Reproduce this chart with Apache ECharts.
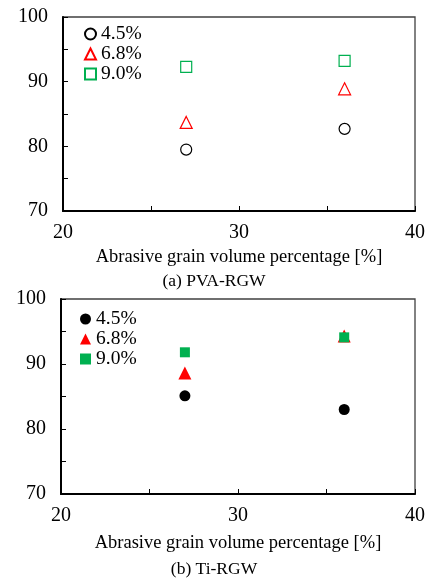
<!DOCTYPE html>
<html><head><meta charset="utf-8">
<script src="https://cdn.jsdelivr.net/npm/echarts@6/dist/echarts.min.js"></script>
<style>html,body{margin:0;padding:0;background:#fff}#c{width:428px;height:580px}</style>
</head><body><div id="c"></div>
<script>
const xValues = [27, 36];
const seriesNames = ['4.5%', '6.8%', '9.0%'];
const pvaValues = {
  '4.5%': [79.5, 82.7],
  '6.8%': [83.7, 88.9],
  '9.0%': [92.3, 93.2]
};
const tiValues = {
  '4.5%': [85.1, 83.0],
  '6.8%': [88.6, 94.3],
  '9.0%': [91.8, 94.1]
};
const xTickLabels = [20, 30, 40];
const yTickLabels = [70, 80, 90, 100];
const xAxisTitle = 'Abrasive grain volume percentage [%]';
const captions = ['(a) PVA-RGW', '(b) Ti-RGW'];

const FONT = 'Liberation Serif';
const symbols = ['circle', 'triangle', 'rect'];
const colors = ['#000000', '#ff0000', '#00b050'];
const sizes = [[11, 12, 11], [11, 13, 10]];
const nameGaps = [37, 40];

function axisPair(i) {
  return {
    x: {
      type: 'value', gridIndex: i, min: 20, max: 40, interval: 5,
      splitLine: { show: false },
      axisLine: { lineStyle: { color: '#000', width: 2 } },
      axisTick: { inside: true, length: 5, lineStyle: { color: '#000', width: 1 } },
      axisLabel: { fontFamily: FONT, fontSize: 20, color: '#000', margin: 12,
        formatter: v => xTickLabels.includes(v) ? String(v) : '' },
      name: xAxisTitle, nameLocation: 'middle', nameGap: nameGaps[i],
      nameTextStyle: { fontFamily: FONT, fontSize: 18.5, color: '#000' }
    },
    y: {
      type: 'value', gridIndex: i, min: 70, max: 100, interval: 5,
      splitLine: { show: false },
      axisLine: { show: true, lineStyle: { color: '#000', width: 2 } },
      axisTick: { show: true, inside: true, length: 5, lineStyle: { color: '#000', width: 1 } },
      axisLabel: { fontFamily: FONT, fontSize: 20, color: '#000', margin: 15,
        formatter: v => yTickLabels.includes(v) ? String(v) : '' }
    }
  };
}

const a0 = axisPair(0), a1 = axisPair(1);
const series = [];
[pvaValues, tiValues].forEach((vals, gi) => {
  seriesNames.forEach((n, k) => {
    const filled = gi === 1;
    series.push({
      name: (gi === 0 ? 'a:' : 'b:') + n,
      type: 'scatter', xAxisIndex: gi, yAxisIndex: gi,
      symbol: symbols[k], symbolSize: sizes[gi][k],
      itemStyle: filled
        ? { color: colors[k], borderWidth: 0, opacity: 1 }
        : { color: 'rgba(255,255,255,0)', borderColor: colors[k], borderWidth: 1.2, opacity: 1 },
      data: xValues.map((x, j) => [x, vals[n][j]])
    });
  });
});

const legendCommon = {
  orient: 'vertical', itemWidth: 11, itemHeight: 11, itemGap: 0, padding: 0,
  textStyle: { fontFamily: FONT, fontSize: 19.5, color: '#000', lineHeight: 19.5 },
  formatter: n => n.slice(2), selectedMode: false
};

const chart = echarts.init(document.getElementById('c'), null, { renderer: 'canvas' });
chart.setOption({
  animation: false,
  backgroundColor: '#fff',
  grid: [
    { left: 63, top: 17, right: 13, height: 194, show: true, borderColor: '#404040', borderWidth: 1.3, backgroundColor: 'transparent' },
    { left: 61, top: 299, right: 12, height: 195, show: true, borderColor: '#404040', borderWidth: 1.3, backgroundColor: 'transparent' }
  ],
  xAxis: [a0.x, a1.x],
  yAxis: [a0.y, a1.y],
  legend: [
    Object.assign({ left: 84, top: 24, data: seriesNames.map(n => 'a:' + n) }, legendCommon),
    Object.assign({ left: 80, top: 309, data: seriesNames.map(n => 'b:' + n) }, legendCommon)
  ],
  graphic: [
    { type: 'text', left: 'center', top: 272, style: { text: captions[0], font: '17.5px "' + FONT + '"', fill: '#000' } },
    { type: 'text', left: 'center', top: 560, style: { text: captions[1], font: '17.5px "' + FONT + '"', fill: '#000' } }
  ],
  series: series
});
</script></body></html>
